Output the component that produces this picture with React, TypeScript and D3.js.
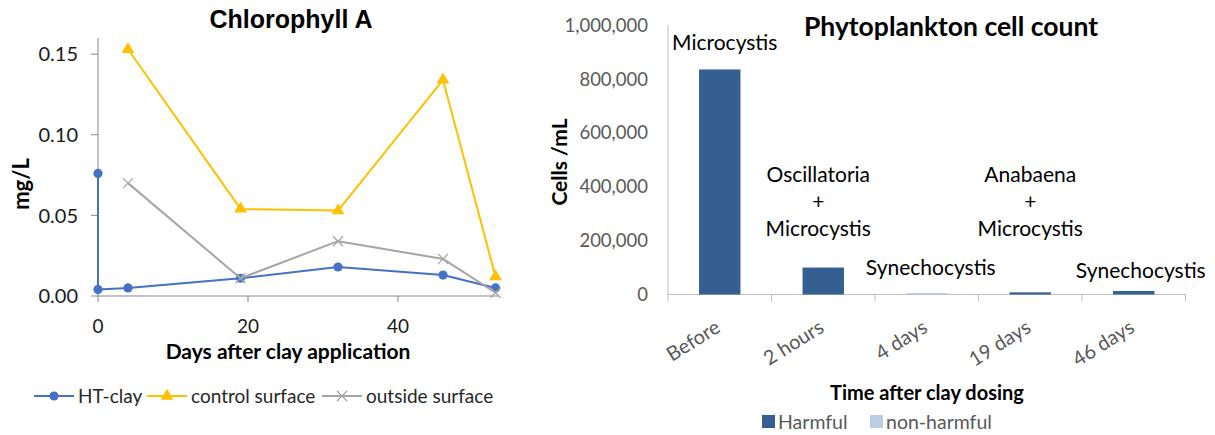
import React from "react";
import * as d3 from "d3";

// ---------- Left chart data: Chlorophyll A ----------
const htClayDays = [0, 0, 4, 19, 32, 46, 53];
const htClayValues = [0.076, 0.004, 0.005, 0.011, 0.018, 0.013, 0.005];
const controlDays = [4, 19, 32, 46, 53];
const controlValues = [0.153, 0.054, 0.053, 0.134, 0.012];
const outsideDays = [4, 19, 32, 46, 53];
const outsideValues = [0.07, 0.011, 0.034, 0.023, 0.002];
const chlYTicks = [0, 0.05, 0.1, 0.15];
const chlXTicks = [0, 20, 40];
const chlSeriesNames = ["HT-clay", "control surface", "outside surface"];

// ---------- Right chart data: Phytoplankton cell count ----------
const categories = ["Before", "2 hours", "4 days", "19 days", "46 days"];
const harmful = [835000, 100000, 0, 8000, 13000];
const nonHarmful = [0, 0, 5500, 0, 0];
const cellTicks = [0, 200000, 400000, 600000, 800000, 1000000];
const barLabels = [
  ["Microcystis"],
  ["Oscillatoria", "+", "Microcystis"],
  ["Synechocystis"],
  ["Anabaena", "+", "Microcystis"],
  ["Synechocystis"],
];
const cellSeriesNames = ["Harmful", "non-harmful"];

const FONT = "Lato, 'Open Sans', sans-serif";
const BLUE = "#4472C4";
const GOLD = "#FFC000";
const GRAY = "#A5A5A5";
const HARM = "#365F91";
const NONHARM = "#B9CDE5";

// label layout (hand-placed text boxes in the original)
const labelLayout = [
  { dx: 5, y: 50 },
  { dx: -5, y: 181.5 },
  { dx: 4, y: 275 },
  { dx: 0, y: 181.5 },
  { dx: 7, y: 277.5 },
];

function Marker({ kind, x, y, color }: { kind: string; x: number; y: number; color: string }) {
  if (kind === "circle") return <circle cx={x} cy={y} r={4.6} fill={color} />;
  if (kind === "triangle") {
    const tri = d3.symbol().type(d3.symbolTriangle).size(70)();
    return <path d={tri || ""} transform={`translate(${x},${y})`} fill={color} />;
  }
  const s = 5;
  return (
    <path
      d={`M${x - s},${y - s}L${x + s},${y + s}M${x - s},${y + s}L${x + s},${y - s}`}
      stroke={color}
      strokeWidth={1.3}
      fill="none"
    />
  );
}

function LeftChart() {
  const x = d3.scaleLinear().domain([0, 53.33]).range([98, 498]);
  const y = d3.scaleLinear().domain([0, 0.16]).range([296, 38]);
  const series = [
    { name: chlSeriesNames[0], days: htClayDays, vals: htClayValues, color: BLUE, marker: "circle", w: 2 },
    { name: chlSeriesNames[1], days: controlDays, vals: controlValues, color: GOLD, marker: "triangle", w: 2 },
    { name: chlSeriesNames[2], days: outsideDays, vals: outsideValues, color: GRAY, marker: "x", w: 2 },
  ];
  const line = d3
    .line<[number, number]>()
    .x((d) => x(d[0]))
    .y((d) => y(d[1]));
  const axisColor = "#878787";
  const legendItems = [
    { lx: 34, tx: 78 },
    { lx: 147, tx: 191 },
    { lx: 322, tx: 366 },
  ];
  return (
    <g>
      <text x={291} y={28} textAnchor="middle" fontFamily="'Liberation Sans', Arial, sans-serif" fontWeight="bold" fontSize={25} fill="#000">
        Chlorophyll A
      </text>
      {/* axes */}
      <line x1={x(0)} x2={x(0)} y1={y(0.16)} y2={y(0)} stroke={axisColor} strokeWidth={1} />
      <line x1={x(0)} x2={x.range()[1]} y1={y(0)} y2={y(0)} stroke={axisColor} strokeWidth={1} />
      {chlYTicks.map((t) => (
        <g key={t}>
          <line x1={x(0) - 7} x2={x(0)} y1={y(t)} y2={y(t)} stroke={axisColor} />
          <text x={78} y={y(t)} dy="0.36em" textAnchor="end" fontFamily={FONT} fontSize={20} fill="#1a1a1a">
            {d3.format(".2f")(t)}
          </text>
        </g>
      ))}
      {chlXTicks.map((t) => (
        <g key={t}>
          <line x1={x(t)} x2={x(t)} y1={y(0)} y2={y(0) + 6} stroke={axisColor} />
          <text x={x(t)} y={333} textAnchor="middle" fontFamily={FONT} fontSize={19} fill="#1a1a1a">
            {t}
          </text>
        </g>
      ))}
      <text x={288} y={359} textAnchor="middle" fontFamily={FONT} fontWeight="bold" fontSize={21} fill="#000">
        Days after clay application
      </text>
      <text transform={`translate(29,184) rotate(-90)`} textAnchor="middle" fontFamily={FONT} fontWeight="bold" fontSize={22} fill="#000">
        mg/L
      </text>
      {/* series */}
      {series.map((s) => {
        const pts = s.days.map((d, i) => [d, s.vals[i]] as [number, number]);
        return (
          <g key={s.name}>
            <path d={line(pts) || ""} fill="none" stroke={s.color} strokeWidth={s.w} strokeLinejoin="round" />
            {pts.map((p, i) => (
              <Marker key={i} kind={s.marker} x={x(p[0])} y={y(p[1])} color={s.color} />
            ))}
          </g>
        );
      })}
      {/* legend */}
      {series.map((s, i) => (
        <g key={s.name}>
          <line x1={legendItems[i].lx} x2={legendItems[i].lx + 40} y1={396} y2={396} stroke={s.color} strokeWidth={2} />
          <Marker kind={s.marker} x={legendItems[i].lx + 20} y={396} color={s.color} />
          <text x={legendItems[i].tx} y={396} dy="0.36em" fontFamily={FONT} fontSize={19} fill="#262626">
            {s.name}
          </text>
        </g>
      ))}
    </g>
  );
}

function RightChart() {
  const x = d3.scaleBand<string>().domain(categories).range([668, 1185.5]).paddingInner(0.6).paddingOuter(0.3);
  const y = d3.scaleLinear().domain([0, 1000000]).range([294.5, 25]);
  const step = x.step();
  const x0 = x.range()[0];
  const axisColor = "#BFBFBF";
  const stackData = categories.map((c, i) => ({ cat: c, Harmful: harmful[i], "non-harmful": nonHarmful[i] }));
  const stacked = d3.stack<any>().keys(cellSeriesNames)(stackData);
  const colors = [HARM, NONHARM];
  const fmt = d3.format(",");
  return (
    <g>
      <text x={951} y={36} textAnchor="middle" fontFamily={FONT} fontWeight="bold" fontSize={26.5} fill="#000">
        Phytoplankton cell count
      </text>
      {cellTicks.map((t) => (
        <text key={t} x={648} y={y(t)} dy="0.36em" textAnchor="end" fontFamily={FONT} fontSize={18.5} fill="#595959">
          {fmt(t)}
        </text>
      ))}
      <line x1={x0} x2={x0} y1={y(1000000)} y2={y(0)} stroke={axisColor} />
      <line x1={x0} x2={x.range()[1]} y1={y(0)} y2={y(0)} stroke={axisColor} />
      {categories.map((c, i) => (
        <line key={c} x1={x0 + i * step} x2={x0 + i * step} y1={y(0)} y2={y(0) + 7} stroke={axisColor} />
      ))}
      <line x1={x.range()[1]} x2={x.range()[1]} y1={y(0)} y2={y(0) + 7} stroke={axisColor} />
      {stacked.map((layer, li) => (
        <g key={layer.key}>
          {layer.map((d, i) =>
            d[1] - d[0] > 0 ? (
              <rect
                key={i}
                x={x(categories[i])}
                width={x.bandwidth()}
                y={y(d[1])}
                height={y(d[0]) - y(d[1])}
                fill={colors[li]}
              />
            ) : null
          )}
        </g>
      ))}
      {/* category labels */}
      {categories.map((c) => {
        const cx = (x(c) || 0) + x.bandwidth() / 2;
        return (
          <text
            key={c}
            transform={`translate(${cx + 2},${331}) rotate(-32)`}
            textAnchor="end"
            fontFamily={FONT}
            fontSize={20}
            fill="#595959"
          >
            {c}
          </text>
        );
      })}
      {/* bar annotations */}
      {barLabels.map((lines, i) => {
        const cx = (x(categories[i]) || 0) + x.bandwidth() / 2 + labelLayout[i].dx;
        return (
          <text key={i} textAnchor="middle" fontFamily={FONT} fontSize={21} fill="#000">
            {lines.map((ln, j) => (
              <tspan key={j} x={cx} y={labelLayout[i].y + j * 27}>
                {ln}
              </tspan>
            ))}
          </text>
        );
      })}
      <text transform={`translate(567,162) rotate(-90)`} textAnchor="middle" fontFamily={FONT} fontWeight="bold" fontSize={21} fill="#000">
        Cells /mL
      </text>
      <text x={927} y={400} textAnchor="middle" fontFamily={FONT} fontWeight="bold" fontSize={20} fill="#000">
        Time after clay dosing
      </text>
      {/* legend */}
      {cellSeriesNames.map((n, i) => {
        const lx = i === 0 ? 762 : 870;
        return (
          <g key={n}>
            <rect x={lx} y={415} width={13} height={13} fill={colors[i]} />
            <text x={lx + 16} y={421.5} dy="0.36em" fontFamily={FONT} fontSize={19.5} fill="#595959">
              {n}
            </text>
          </g>
        );
      })}
    </g>
  );
}

export default function App() {
  return (
    <svg
      width={1215}
      height={435}
      style={{ position: "absolute", left: 0, top: 0, background: "#fff" }}
    >
      <rect width={1215} height={435} fill="#fff" />
      <LeftChart />
      <RightChart />
    </svg>
  );
}
